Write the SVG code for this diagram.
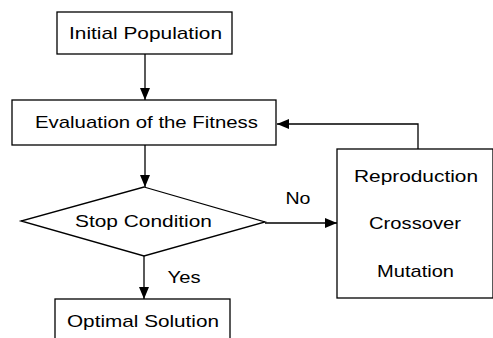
<svg xmlns="http://www.w3.org/2000/svg" width="493" height="338" viewBox="0 0 493 338">
<style>
.box{fill:#fff;stroke:#000;stroke-width:1.3}
.ln{fill:none;stroke:#000;stroke-width:1.3}
text{font-family:"Liberation Sans",Arial,sans-serif;font-size:17px;fill:#000;text-anchor:middle}
</style>
<defs>
<marker id="ah" viewBox="0 0 12 10" refX="12" refY="5" markerWidth="12" markerHeight="10" markerUnits="userSpaceOnUse" orient="auto">
<path d="M0,0 L12,5 L0,10 Z" fill="#000"/>
</marker>
</defs>
<g id="connectors">
<line class="ln" x1="145" y1="54" x2="145" y2="100" marker-end="url(#ah)"/>
<line class="ln" x1="145" y1="145" x2="145" y2="187" marker-end="url(#ah)"/>
<line class="ln" x1="144" y1="256" x2="144" y2="299" marker-end="url(#ah)"/>
<line class="ln" x1="265" y1="223" x2="337" y2="223" marker-end="url(#ah)"/>
<polyline class="ln" points="418,149 418,124 277,124" marker-end="url(#ah)"/>
<text x="298" y="204" textLength="25" lengthAdjust="spacingAndGlyphs">No</text>
<text x="184" y="283" textLength="33" lengthAdjust="spacingAndGlyphs">Yes</text>
</g>
<g id="initial">
<rect class="box" x="57" y="12" width="175" height="42"/>
<text x="145.5" y="39" textLength="153" lengthAdjust="spacingAndGlyphs">Initial Population</text>
</g>
<g id="evaluation">
<rect class="box" x="12" y="100" width="264" height="45"/>
<text x="146.5" y="128" textLength="223" lengthAdjust="spacingAndGlyphs">Evaluation of the Fitness</text>
</g>
<g id="stop">
<polygon class="box" points="144,187 265,222 144,256 21,221"/>
<text x="143.5" y="227" textLength="137" lengthAdjust="spacingAndGlyphs">Stop Condition</text>
</g>
<g id="operators">
<rect class="box" x="337" y="149" width="156" height="149"/>
<text x="416" y="182" textLength="124" lengthAdjust="spacingAndGlyphs">Reproduction</text>
<text x="415" y="229" textLength="92" lengthAdjust="spacingAndGlyphs">Crossover</text>
<text x="415.5" y="277" textLength="77" lengthAdjust="spacingAndGlyphs">Mutation</text>
</g>
<g id="optimal">
<rect class="box" x="55" y="299" width="175" height="45"/>
<text x="143" y="327" textLength="152" lengthAdjust="spacingAndGlyphs">Optimal Solution</text>
</g>
</svg>
